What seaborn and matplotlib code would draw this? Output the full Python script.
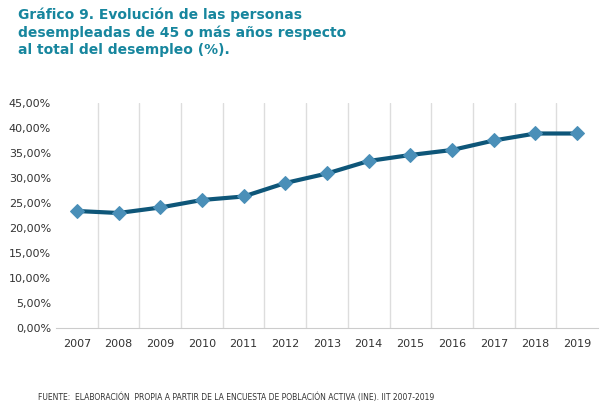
import numpy as np
import pandas as pd
import matplotlib
matplotlib.use("Agg")
import matplotlib.pyplot as plt
from matplotlib.ticker import FuncFormatter
import seaborn as sns

years = ['2007', '2008', '2009', '2010', '2011', '2012', '2013',
         '2014', '2015', '2016', '2017', '2018', '2019']
pct = [23.4, 23.0, 24.1, 25.6, 26.3, 29.0, 30.9, 33.4, 34.6, 35.6, 37.5, 38.9, 38.9]

sns.set_style("white")
plt.rcParams['font.family'] = ['DejaVu Sans']

df = pd.DataFrame({'year': years, 'pct': pct})
df['x'] = np.arange(len(years))

fig = plt.figure(figsize=(6.16, 4.11), dpi=100)
ax = fig.add_axes([56 / 616, (411 - 328) / 411, 542 / 616, 225 / 411])

sns.lineplot(data=df, x='x', y='pct', ax=ax, color='#0e5679', linewidth=3,
             marker='D', markersize=7, markerfacecolor='#4a8fb8',
             markeredgecolor='#4a8fb8')

ax.set_xlim(-0.5, len(years) - 0.5)
ax.set_ylim(0, 45)
ax.set_yticks(np.arange(0, 46, 5))
ax.yaxis.set_major_formatter(FuncFormatter(lambda v, p: f"{v:.2f}".replace('.', ',') + '%'))
ax.set_xticks(df['x'])
ax.set_xticklabels(years)
for b in np.arange(0.5, len(years) - 0.5, 1):
    ax.axvline(b, color='#dddddd', linewidth=1, zorder=0)
ax.tick_params(axis='both', labelsize=8, colors='#333333', length=0)
ax.tick_params(axis='x', pad=8)
for lbl in ax.get_xticklabels():
    lbl.set_fontproperties({'size': 8})
for s in ['top', 'right', 'left']:
    ax.spines[s].set_visible(False)
ax.spines['bottom'].set_color('#cccccc')
ax.set_xlabel('')
ax.set_ylabel('')

fig.text(18 / 616, 1 - 8 / 411,
         'Gráfico 9. Evolución de las personas\ndesempleadas de 45 o más años respecto\nal total del desempleo (%).',
         ha='left', va='top', fontsize=10, fontweight='bold', color='#17869e', linespacing=1.25)
fig.text(38 / 616, 1 - 397 / 411,
         'FUENTE:  ELABORACIÓN  PROPIA A PARTIR DE LA ENCUESTA DE POBLACIÓN ACTIVA (INE). IIT 2007-2019',
         ha='left', va='center', fontsize=5.5, color='#333333')

fig.savefig('out.png', dpi=100)
